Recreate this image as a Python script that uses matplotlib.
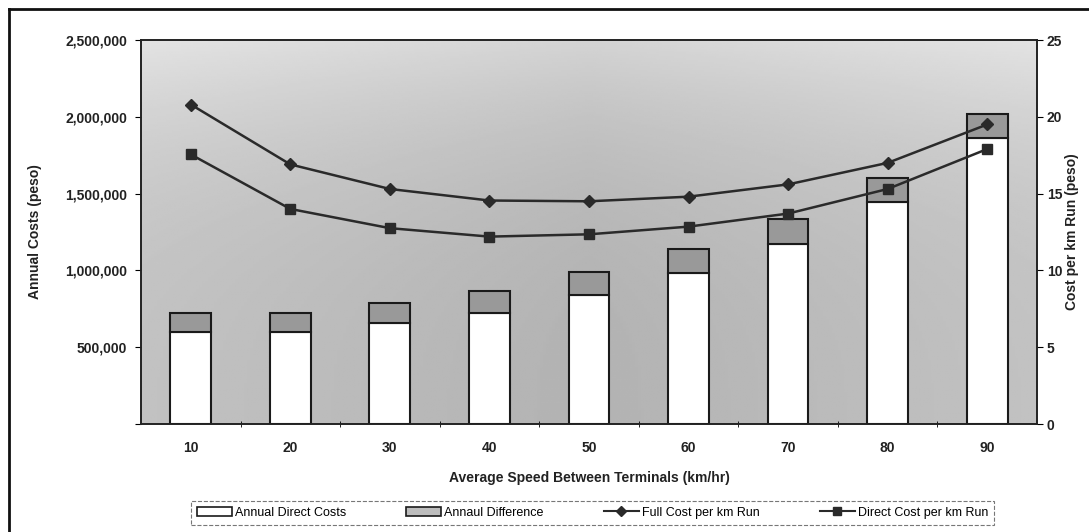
import matplotlib
matplotlib.use("Agg")
import matplotlib.pyplot as plt
import numpy as np
from matplotlib.patches import Patch
from matplotlib.lines import Line2D

plt.rcParams['font.family'] = ['Liberation Sans', 'DejaVu Sans']

# data
speeds = [10, 20, 30, 40, 50, 60, 70, 80, 90]
direct_costs = [600000, 600000, 655000, 725000, 840000, 980000, 1175000, 1445000, 1860000]
total_costs = [720000, 725000, 785000, 865000, 990000, 1140000, 1335000, 1600000, 2020000]
full_per_km = [20.8, 16.9, 15.3, 14.55, 14.5, 14.8, 15.6, 17.0, 19.5]
direct_per_km = [17.55, 14.0, 12.75, 12.2, 12.35, 12.85, 13.7, 15.3, 17.9]

diff_costs = [t - d for t, d in zip(total_costs, direct_costs)]

fig = plt.figure(figsize=(10.89, 5.32), dpi=100)
fig.patch.set_facecolor('white')
ax = fig.add_axes([0.1295, 0.203, 0.8227, 0.7218])

# scanned grey background, lighter towards the bottom
yy = np.linspace(0, 1, 200)[:, None]
xx = np.linspace(0, 1, 300)[None, :]
shade = 0.70 + 0.13 * (1 - yy) ** 3 + 0.06 * np.abs(xx - 0.5) * 2
ax.imshow(shade, extent=[5, 95, 0, 2500000], aspect='auto', cmap='gray',
          vmin=0, vmax=1, origin='upper', zorder=0)

ax.bar(speeds, direct_costs, width=4.1, color='white', edgecolor='#1a1a1a',
       linewidth=1.5, zorder=2)
ax.bar(speeds, diff_costs, width=4.1, bottom=direct_costs, color='#999999',
       edgecolor='#1a1a1a', linewidth=1.5, zorder=2)

ax.set_xlim(5, 95)
ax.set_ylim(0, 2500000)
ax.set_yticks(np.arange(0, 2500001, 500000))
ax.set_yticklabels(['', '500,000', '1,000,000', '1,500,000', '2,000,000', '2,500,000'])
ax.set_xticks(speeds)
ax.set_xticks(np.arange(15, 90, 10), minor=True)
ax.tick_params(axis='x', which='major', length=0, pad=12)
ax.tick_params(axis='x', which='minor', length=4, direction='inout')
ax.tick_params(axis='y', length=4, direction='out', pad=6)
for lab in ax.get_xticklabels() + ax.get_yticklabels():
    lab.set_fontsize(10)
    lab.set_fontweight('bold')
    lab.set_color('#222222')
ax.set_xlabel('Average Speed Between Terminals (km/hr)', fontsize=10,
              fontweight='bold', color='#222222', labelpad=12)
ax.set_ylabel('Annual Costs (peso)', fontsize=10, fontweight='bold',
              color='#222222', labelpad=17)
for s in ax.spines.values():
    s.set_color('#222222')
    s.set_linewidth(1.2)

ax2 = ax.twinx()
ax2.plot(speeds, full_per_km, color='#2a2a2a', linewidth=1.8, marker='D',
         markersize=6, zorder=3)
ax2.plot(speeds, direct_per_km, color='#2a2a2a', linewidth=1.8, marker='s',
         markersize=7, zorder=3)
ax2.set_ylim(0, 25)
ax2.set_yticks(np.arange(0, 26, 5))
ax2.tick_params(axis='y', length=4, direction='out', pad=3)
for lab in ax2.get_yticklabels():
    lab.set_fontsize(10)
    lab.set_fontweight('bold')
    lab.set_color('#222222')
ax2.set_ylabel('Cost per km Run (peso)', fontsize=10, fontweight='bold',
               color='#222222', labelpad=2)
for s in ax2.spines.values():
    s.set_color('#222222')
    s.set_linewidth(1.2)

handles = [
    Patch(facecolor='white', edgecolor='#1a1a1a', linewidth=1.2, label='Annual Direct Costs'),
    Patch(facecolor='#bdbdbd', edgecolor='#1a1a1a', linewidth=1.2, label='Annaul Difference'),
    Line2D([], [], color='#2a2a2a', linewidth=1.5, marker='D', markersize=5,
           label='Full Cost per km Run'),
    Line2D([], [], color='#2a2a2a', linewidth=1.5, marker='s', markersize=6,
           label='Direct Cost per km Run'),
]
leg = fig.legend(handles=handles, loc='center', bbox_to_anchor=(0.544, 0.036),
                 ncol=4, fontsize=9, frameon=True, fancybox=False,
                 handlelength=2.8, handleheight=0.8, columnspacing=4.8,
                 borderpad=0.45, handletextpad=0.25)
leg.get_frame().set_edgecolor('#555555')
leg.get_frame().set_linestyle('--')
leg.get_frame().set_linewidth(0.8)

# outer frame of the scanned figure
fig.add_artist(Line2D([9 / 1089, 9 / 1089], [0, 1 - 9 / 532], color='#111111',
                      linewidth=2, transform=fig.transFigure))
fig.add_artist(Line2D([9 / 1089, 1], [1 - 9 / 532, 1 - 9 / 532], color='#111111',
                      linewidth=2, transform=fig.transFigure))

fig.savefig('out.png', dpi=100)
